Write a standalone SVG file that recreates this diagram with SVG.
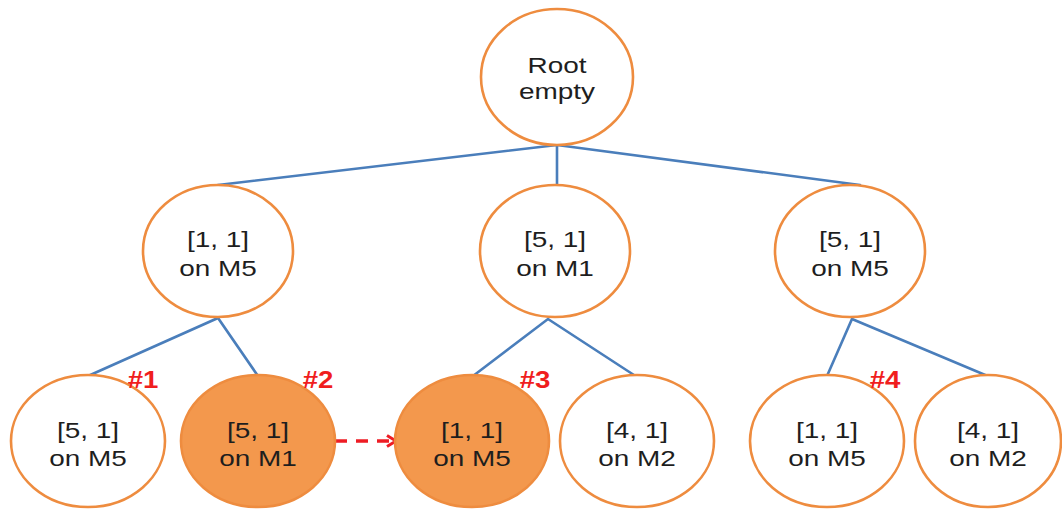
<svg xmlns="http://www.w3.org/2000/svg" width="1062" height="509" viewBox="0 0 1062 509">
  <defs>
    <style>
      .node { fill: #ffffff; stroke: #EE8C3F; stroke-width: 2.6; }
      .hot { fill: #F3984D; }
      .lbl { font-family: "Liberation Sans", Arial, sans-serif; font-size: 21.5px; fill: #1e1e1e; text-anchor: middle; }
      .tag { font-family: "Liberation Sans", Arial, sans-serif; font-size: 23px; font-weight: bold; fill: #F01E1E; text-anchor: middle; }
      .edge { stroke: #4A7EBB; stroke-width: 2.6; fill: none; stroke-linecap: round; }
      .jump { stroke: #EE1C24; stroke-width: 3.4; fill: none; stroke-dasharray: 12 9; }
    </style>
    <marker id="chevron" viewBox="0 0 12 14" refX="10.5" refY="7" markerWidth="12" markerHeight="14" markerUnits="userSpaceOnUse" orient="auto">
      <path d="M1.5,1.5 L10.5,7 L1.5,12.5" fill="none" stroke="#EE1C24" stroke-width="3"/>
    </marker>
  </defs>

  <rect width="1062" height="509" fill="#ffffff"/>

  <!-- tree edges -->
  <g id="connectors">
    <polyline class="edge" points="218,185 557,145 860,185"/>
    <line class="edge" x1="557" y1="145" x2="557" y2="184"/>
    <polyline class="edge" points="88,376 218,318 258,376"/>
    <polyline class="edge" points="473,376 548,319 637,377"/>
    <polyline class="edge" points="827,376 852,319 990,377"/>
    <line class="jump" x1="335" y1="441" x2="396" y2="441" marker-end="url(#chevron)"/>
  </g>

  <g id="root" transform="translate(557,77)">
    <ellipse class="node" rx="76" ry="68"/>
    <text class="lbl" transform="scale(1.3,1)"><tspan x="0" y="-4">Root</tspan><tspan x="0" y="22">empty</tspan></text>
  </g>

  <g id="n1" transform="translate(218,251)">
    <ellipse class="node" rx="75" ry="66"/>
    <text class="lbl" transform="scale(1.3,1)"><tspan x="0" y="-4">[1, 1]</tspan><tspan x="0" y="25">on M5</tspan></text>
  </g>

  <g id="n2" transform="translate(555,251)">
    <ellipse class="node" rx="75" ry="66"/>
    <text class="lbl" transform="scale(1.3,1)"><tspan x="0" y="-4">[5, 1]</tspan><tspan x="0" y="25">on M1</tspan></text>
  </g>

  <g id="n3" transform="translate(850,251)">
    <ellipse class="node" rx="75" ry="66"/>
    <text class="lbl" transform="scale(1.3,1)"><tspan x="0" y="-4">[5, 1]</tspan><tspan x="0" y="25">on M5</tspan></text>
  </g>

  <g id="n11" transform="translate(88,441)">
    <ellipse class="node" rx="77" ry="66"/>
    <text class="lbl" transform="scale(1.3,1)"><tspan x="0" y="-3">[5, 1]</tspan><tspan x="0" y="25">on M5</tspan></text>
  </g>

  <g id="n12" transform="translate(258,441)">
    <ellipse class="node hot" rx="77" ry="66"/>
    <text class="lbl" transform="scale(1.3,1)"><tspan x="0" y="-3">[5, 1]</tspan><tspan x="0" y="25">on M1</tspan></text>
  </g>

  <g id="n21" transform="translate(472,441)">
    <ellipse class="node hot" rx="77" ry="66"/>
    <text class="lbl" transform="scale(1.3,1)"><tspan x="0" y="-3">[1, 1]</tspan><tspan x="0" y="25">on M5</tspan></text>
  </g>

  <g id="n22" transform="translate(637,441)">
    <ellipse class="node" rx="77" ry="66"/>
    <text class="lbl" transform="scale(1.3,1)"><tspan x="0" y="-3">[4, 1]</tspan><tspan x="0" y="25">on M2</tspan></text>
  </g>

  <g id="n31" transform="translate(827,441)">
    <ellipse class="node" rx="77" ry="66"/>
    <text class="lbl" transform="scale(1.3,1)"><tspan x="0" y="-3">[1, 1]</tspan><tspan x="0" y="25">on M5</tspan></text>
  </g>

  <g id="n32" transform="translate(988,441)">
    <ellipse class="node" rx="73" ry="66"/>
    <text class="lbl" transform="scale(1.3,1)"><tspan x="0" y="-3">[4, 1]</tspan><tspan x="0" y="25">on M2</tspan></text>
  </g>

  <!-- step markers -->
  <g id="tags">
    <text class="tag" transform="translate(143,0) scale(1.2,1)" x="0" y="388">#1</text>
    <text class="tag" transform="translate(318,0) scale(1.2,1)" x="0" y="388">#2</text>
    <text class="tag" transform="translate(535,0) scale(1.2,1)" x="0" y="388">#3</text>
    <text class="tag" transform="translate(885,0) scale(1.2,1)" x="0" y="388">#4</text>
  </g>
</svg>
